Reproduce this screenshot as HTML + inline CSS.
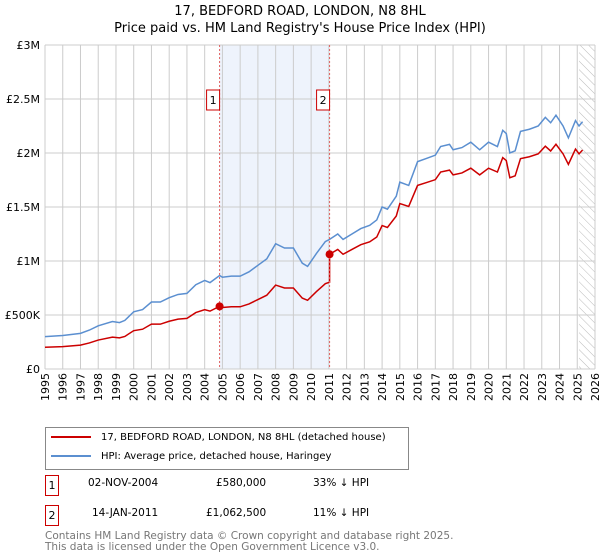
<!DOCTYPE html>
<html><head><meta charset="utf-8"><style>
body{margin:0;width:600px;height:560px;background:#fff;font-family:"DejaVu Sans","Liberation Sans",sans-serif;overflow:hidden;position:relative}
.t{position:absolute;white-space:nowrap;color:#000}
.box{position:absolute;border:1px solid #c00;width:12px;height:19px;font-size:11px;text-align:center;line-height:19px}
</style></head><body>
<div class="t" style="left:0;width:600px;text-align:center;top:3px;font-size:13px;line-height:17px">17, BEDFORD ROAD, LONDON, N8 8HL<br>Price paid vs. HM Land Registry's House Price Index (HPI)</div>
<svg id="chart" width="600" height="420" style="position:absolute;left:0;top:0" font-family="DejaVu Sans, Liberation Sans, sans-serif"></svg>
<div style="position:absolute;left:45px;top:427px;width:362px;height:41px;border:1px solid #888;font-size:10px">
<div style="position:absolute;left:5px;top:4px;white-space:nowrap"><span style="display:inline-block;width:40px;height:2px;background:#c00;vertical-align:middle;margin-right:10px"></span>17, BEDFORD ROAD, LONDON, N8 8HL (detached house)</div>
<div style="position:absolute;left:5px;top:23px;white-space:nowrap"><span style="display:inline-block;width:40px;height:2px;background:#5b8fd0;vertical-align:middle;margin-right:10px"></span>HPI: Average price, detached house, Haringey</div>
</div>
<div class="box" style="left:45px;top:475px">1</div>
<div class="t" style="left:88px;top:477px;font-size:10.5px">02-NOV-2004</div>
<div class="t" style="left:216px;top:477px;font-size:10.5px">£580,000</div>
<div class="t" style="left:313px;top:477px;font-size:10.5px">33% ↓ HPI</div>
<div class="box" style="left:45px;top:505px">2</div>
<div class="t" style="left:92px;top:507px;font-size:10.5px">14-JAN-2011</div>
<div class="t" style="left:206px;top:507px;font-size:10.5px">£1,062,500</div>
<div class="t" style="left:313px;top:507px;font-size:10.5px">11% ↓ HPI</div>
<div class="t" style="left:45px;top:531px;font-size:10.5px;line-height:11px;color:#777">Contains HM Land Registry data © Crown copyright and database right 2025.<br>This data is licensed under the Open Government Licence v3.0.</div>
<script>
const hpiYears=[1995,1996,1997,1997.5,1998,1998.8,1999.2,1999.5,2000,2000.5,2001,2001.5,2002,2002.5,2003,2003.5,2004,2004.3,2004.84,2005,2005.5,2006,2006.5,2007,2007.5,2008,2008.5,2009,2009.5,2009.8,2010.3,2010.8,2011.04,2011.5,2011.8,2012.3,2012.8,2013.3,2013.7,2014,2014.3,2014.8,2015,2015.5,2016,2016.5,2017,2017.3,2017.8,2018,2018.5,2019,2019.5,2020,2020.5,2020.8,2021,2021.2,2021.5,2021.8,2022.3,2022.8,2023.2,2023.5,2023.8,2024.2,2024.5,2024.9,2025.1,2025.3];
const hpiValues=[300,310,330,360,400,440,430,450,530,550,620,620,660,690,700,780,820,800,866,850,860,860,900,960,1020,1160,1120,1120,980,950,1070,1180,1200,1250,1200,1250,1300,1330,1380,1500,1480,1600,1730,1700,1920,1950,1980,2060,2080,2030,2050,2100,2030,2100,2060,2210,2180,2000,2020,2200,2220,2250,2330,2280,2350,2250,2140,2300,2250,2290];
const saleDates=[2004.84,2011.04];
const salePrices=[580,1062.5];
const saleLabels=["1","2"];
const yTicks=[0,500,1000,1500,2000,2500,3000];
const yTickLabels=["£0","£500K","£1M","£1.5M","£2M","£2.5M","£3M"];
const xTicks=[1995,1996,1997,1998,1999,2000,2001,2002,2003,2004,2005,2006,2007,2008,2009,2010,2011,2012,2013,2014,2015,2016,2017,2018,2019,2020,2021,2022,2023,2024,2025,2026];
const L=45,R=595,T=45,B=369;
const X=v=>L+(v-1995)/31*(R-L), Y=v=>B-v/3000*(B-T);
const svg=document.getElementById('chart'),NS='http://www.w3.org/2000/svg';
function mk(tag,at,txt){const e=document.createElementNS(NS,tag);for(const k in at)e.setAttribute(k,at[k]);if(txt!=null)e.textContent=txt;svg.appendChild(e);return e;}
let e=mk('rect',{x:X(saleDates[0]),y:T,width:X(saleDates[1])-X(saleDates[0]),height:B-T,fill:'#eef3fc'});

const defs=mk('defs',{});defs.innerHTML='<pattern id="h" width="6" height="6" patternUnits="userSpaceOnUse" patternTransform="rotate(-45)"><line x1="0" y1="0" x2="0" y2="6" stroke="#bbb" stroke-width="1"/></pattern>';
e=mk('rect',{x:X(2025.1),y:T,width:R-X(2025.1),height:B-T,fill:'url(#h)'});

xTicks.forEach(v=>{e=mk('line',{x1:X(v),x2:X(v),y1:T,y2:B,stroke:'#ccc'});
 e=mk('text',{x:0,y:0,transform:`translate(${X(v)+4},${B+4}) rotate(-90)`,'text-anchor':'end','font-size':11},String(v));});
yTicks.forEach((v,i)=>{e=mk('line',{x1:L,x2:R,y1:Y(v),y2:Y(v),stroke:'#ccc'});
 e=mk('text',{x:L-5,y:Y(v)+4,'text-anchor':'end','font-size':11},yTickLabels[i]);});
function hpiAt(t){for(let i=1;i<hpiYears.length;i++)if(t<=hpiYears[i]){const a=hpiYears[i-1],b=hpiYears[i];return hpiValues[i-1]+(hpiValues[i]-hpiValues[i-1])*(t-a)/(b-a);}return hpiValues[hpiValues.length-1];}
e=mk('polyline',{points:hpiYears.map((t,i)=>X(t)+','+Y(hpiValues[i])).join(' '),fill:'none',stroke:'#5b8fd0','stroke-width':1.5});

const r0=salePrices[0]/hpiAt(saleDates[0]),r1=salePrices[1]/hpiAt(saleDates[1]);
const pts=[];hpiYears.forEach((t,i)=>{if(t<saleDates[1])pts.push([t,hpiValues[i]*r0]);});
pts.push([saleDates[1],hpiAt(saleDates[1])*r0]);
hpiYears.forEach((t,i)=>{if(t>=saleDates[1])pts.push([t,hpiValues[i]*r1]);});
e=mk('polyline',{points:pts.map(p=>X(p[0])+','+Y(p[1])).join(' '),fill:'none',stroke:'#c00','stroke-width':1.5});

saleDates.forEach((d,i)=>{
 e=mk('line',{x1:X(d),x2:X(d),y1:T,y2:B,stroke:'#e06060','stroke-dasharray':'2,2'});
 e=mk('circle',{cx:X(d),cy:Y(salePrices[i]),r:4,fill:'#c00'});
 e=mk('rect',{x:X(d)-13,y:90,width:13,height:20,fill:'#fff',stroke:'#c00'});
 e=mk('text',{x:X(d)-6.5,y:104,'text-anchor':'middle','font-size':11},saleLabels[i]);
});
</script>
</body></html>
